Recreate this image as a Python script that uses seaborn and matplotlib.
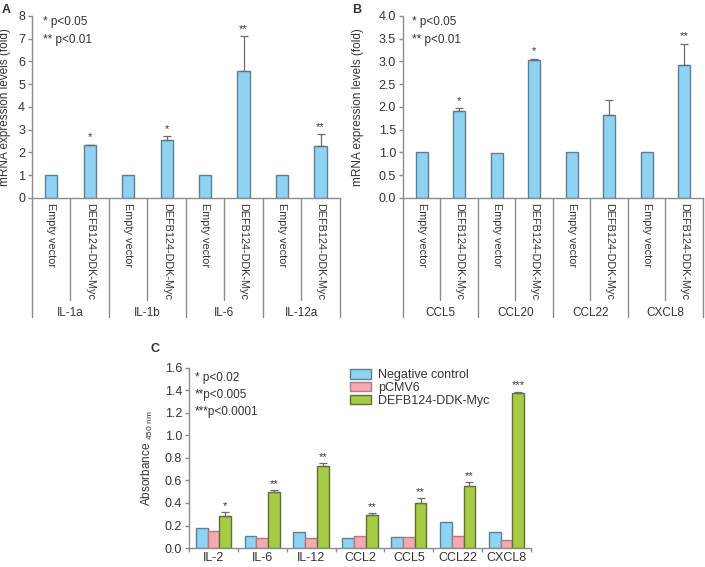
import numpy as np
import pandas as pd
import seaborn as sns
import matplotlib.pyplot as plt
from matplotlib.transforms import blended_transform_factory

# ---- data ----
a_genes = ["IL-1a", "IL-1b", "IL-6", "IL-12a"]
a_empty = [1.0, 1.0, 1.0, 1.0]
a_defb = [2.31, 2.55, 5.58, 2.29]
a_err = [0.03, 0.17, 1.52, 0.52]
a_sig = ["*", "*", "**", "**"]

b_genes = ["CCL5", "CCL20", "CCL22", "CXCL8"]
b_empty = [1.0, 0.99, 1.01, 1.0]
b_defb = [1.90, 3.04, 1.82, 2.91]
b_err = [0.08, 0.02, 0.33, 0.48]
b_sig = ["*", "*", "", "**"]

c_genes = ["IL-2", "IL-6", "IL-12", "CCL2", "CCL5", "CCL22", "CXCL8"]
c_groups = ["Negative control", "pCMV6", "DEFB124-DDK-Myc"]
c_neg = [0.18, 0.11, 0.14, 0.09, 0.10, 0.23, 0.14]
c_pcmv = [0.15, 0.085, 0.09, 0.11, 0.095, 0.11, 0.075]
c_defb = [0.285, 0.495, 0.725, 0.295, 0.40, 0.55, 1.375]
c_defb_err = [0.035, 0.02, 0.03, 0.015, 0.04, 0.035, 0.015]
c_sig = ["*", "**", "**", "**", "**", "**", "***"]

conditions = ["Empty vector", "DEFB124-DDK-Myc"]

sns.set_style("ticks")
plt.rcParams["font.family"] = ["Liberation Sans", "DejaVu Sans"]
plt.rcParams["mathtext.fontset"] = "custom"
plt.rcParams["mathtext.rm"] = "Liberation Sans"
plt.rcParams["font.size"] = 8

BLUE, BLUE_E = "#8fd3f4", "#5d7f93"
PINK, PINK_E = "#f5a9b0", "#b07a80"
GREEN, GREEN_E = "#a6cc45", "#5f6e33"
AXC = "#8c8c8c"
TXT = "#333333"

fig = plt.figure(figsize=(7.05, 5.67), dpi=100)


def style_axis(ax):
    sns.despine(ax=ax)
    for s in ["left", "bottom"]:
        ax.spines[s].set_color(AXC)
        ax.spines[s].set_linewidth(1.0)
    ax.tick_params(axis="both", colors=AXC, labelcolor=TXT, labelsize=9,
                   length=3, width=1.0, pad=2)


def fold_panel(ax, genes, empty, defb, err, sig, ymax, ystep, fmt, p_x):
    keys, vals = [], []
    for i, g in enumerate(genes):
        keys += [f"{g}_e", f"{g}_d"]
        vals += [empty[i], defb[i]]
    df = pd.DataFrame({"key": keys, "val": vals})
    sns.barplot(data=df, x="key", y="val", color=BLUE, edgecolor=BLUE_E,
                linewidth=1.0, width=0.32, saturation=1, ax=ax)
    pos = np.arange(len(genes)) * 2 + 1
    ax.errorbar(pos, defb, yerr=[np.zeros(len(err)), err], fmt="none",
                ecolor="#6b6b6b", elinewidth=0.9, capsize=3, capthick=0.9)
    for p, v, e, s in zip(pos, defb, err, sig):
        if s:
            ax.text(p, v + e + ymax * 0.012, s, ha="center", va="bottom",
                    fontsize=8, color=TXT)
    ax.set_xlim(-0.5, len(keys) - 0.5)
    ax.set_ylim(0, ymax)
    ticks = np.arange(0, ymax + ystep / 2, ystep)
    ax.set_yticks(ticks)
    ax.set_yticklabels([fmt.format(t) for t in ticks])
    ax.set_xticks([])
    ax.set_xlabel("")
    ax.set_ylabel("mRNA expression levels (fold)", fontsize=8.5, color=TXT)
    style_axis(ax)
    # table-like category labels under the axis
    tr = blended_transform_factory(ax.transData, ax.transAxes)
    for k in range(len(keys) + 1):
        x = k - 0.5
        y1 = -0.655 if k % 2 == 0 else -0.56
        ax.plot([x, x], [0, y1], color=AXC, lw=1.0, transform=tr, clip_on=False)
    for k in range(len(keys)):
        ax.text(k, -0.027, conditions[k % 2], rotation=-90, ha="center",
                va="top", fontsize=7.8, color=TXT, transform=tr)
    for i, g in enumerate(genes):
        ax.text(2 * i + 0.5, -0.635, g, ha="center", va="center",
                fontsize=8.5, color=TXT, transform=tr)
    ax.text(p_x, 0.965, "* p<0.05", transform=ax.transAxes, fontsize=8.5,
            color=TXT, va="center")
    ax.text(p_x, 0.868, "** p<0.01", transform=ax.transAxes, fontsize=8.5,
            color=TXT, va="center")


ax_a = fig.add_axes([0.0454, 0.651, 0.4366, 0.321])
fold_panel(ax_a, a_genes, a_empty, a_defb, a_err, a_sig, 8, 1, "{:.0f}", 0.035)
ax_a.yaxis.set_label_coords(-0.068, 0.5)

ax_b = fig.add_axes([0.5716, 0.651, 0.4254, 0.321])
fold_panel(ax_b, b_genes, b_empty, b_defb, b_err, b_sig, 4, 0.5, "{:.1f}", 0.03)
ax_b.yaxis.set_label_coords(-0.13, 0.5)

# ---- panel C ----
ax_c = fig.add_axes([0.268, 0.0335, 0.4851, 0.3175])
df_c = pd.DataFrame({
    "gene": c_genes * 3,
    "group": sum([[g] * len(c_genes) for g in c_groups], []),
    "val": c_neg + c_pcmv + c_defb,
})
sns.barplot(data=df_c, x="gene", y="val", hue="group", hue_order=c_groups,
            palette=[BLUE, PINK, GREEN], saturation=1, width=0.72,
            linewidth=1.0, ax=ax_c)
edge_cols = [BLUE_E] * 7 + [PINK_E] * 7 + [GREEN_E] * 7
for patch, ec in zip(ax_c.patches, edge_cols):
    patch.set_edgecolor(ec)
gx = np.arange(len(c_genes)) + 0.24
ax_c.errorbar(gx, c_defb, yerr=[np.zeros(len(c_defb)), c_defb_err], fmt="none",
              ecolor="#6b6b6b", elinewidth=0.9, capsize=3, capthick=0.9)
for x, v, e, s in zip(gx, c_defb, c_defb_err, c_sig):
    ax_c.text(x, v + e + 0.012, s, ha="center", va="bottom", fontsize=8, color=TXT)
ax_c.set_ylim(0, 1.6)
cticks = np.arange(0, 1.61, 0.2)
ax_c.set_yticks(cticks)
ax_c.set_yticklabels([f"{t:.1f}" for t in cticks])
ax_c.set_xlim(-0.5, len(c_genes) - 0.5)
ax_c.set_xticks(np.arange(len(c_genes) + 1) - 0.5)
ax_c.set_xticklabels([])
ax_c.set_xticks(np.arange(len(c_genes)), minor=True)
ax_c.set_xticklabels(c_genes, minor=True)
ax_c.set_xlabel("")
ax_c.set_ylabel(r"Absorbance $_{\rm 450\ nm}$", fontsize=8.5, color=TXT)
style_axis(ax_c)
ax_c.tick_params(axis="x", which="minor", length=0, labelsize=9,
                 labelcolor=TXT, pad=3)
ax_c.yaxis.set_label_coords(-0.1, 0.5)
leg = ax_c.legend(loc="upper left", bbox_to_anchor=(0.455, 1.02), frameon=False,
                  fontsize=9, handlelength=1.7, handleheight=0.75,
                  labelspacing=0.05, handletextpad=0.6, borderaxespad=0)
for t in leg.get_texts():
    t.set_color(TXT)
for h, ec in zip(leg.legend_handles, [BLUE_E, PINK_E, GREEN_E]):
    h.set_edgecolor(ec)
ax_c.text(0.018, 0.945, "* p<0.02", transform=ax_c.transAxes, fontsize=8.5,
          color=TXT, va="center")
ax_c.text(0.018, 0.85, "**p<0.005", transform=ax_c.transAxes, fontsize=8.5,
          color=TXT, va="center")
ax_c.text(0.018, 0.757, "***p<0.0001", transform=ax_c.transAxes, fontsize=8.5,
          color=TXT, va="center")

# panel letters
fig.text(0.003, 0.993, "A", fontsize=9, fontweight="bold", va="top", color=TXT)
fig.text(0.499, 0.993, "B", fontsize=9, fontweight="bold", va="top", color=TXT)
fig.text(0.214, 0.395, "C", fontsize=9, fontweight="bold", va="top", color=TXT)

fig.savefig("out.png", dpi=100)
